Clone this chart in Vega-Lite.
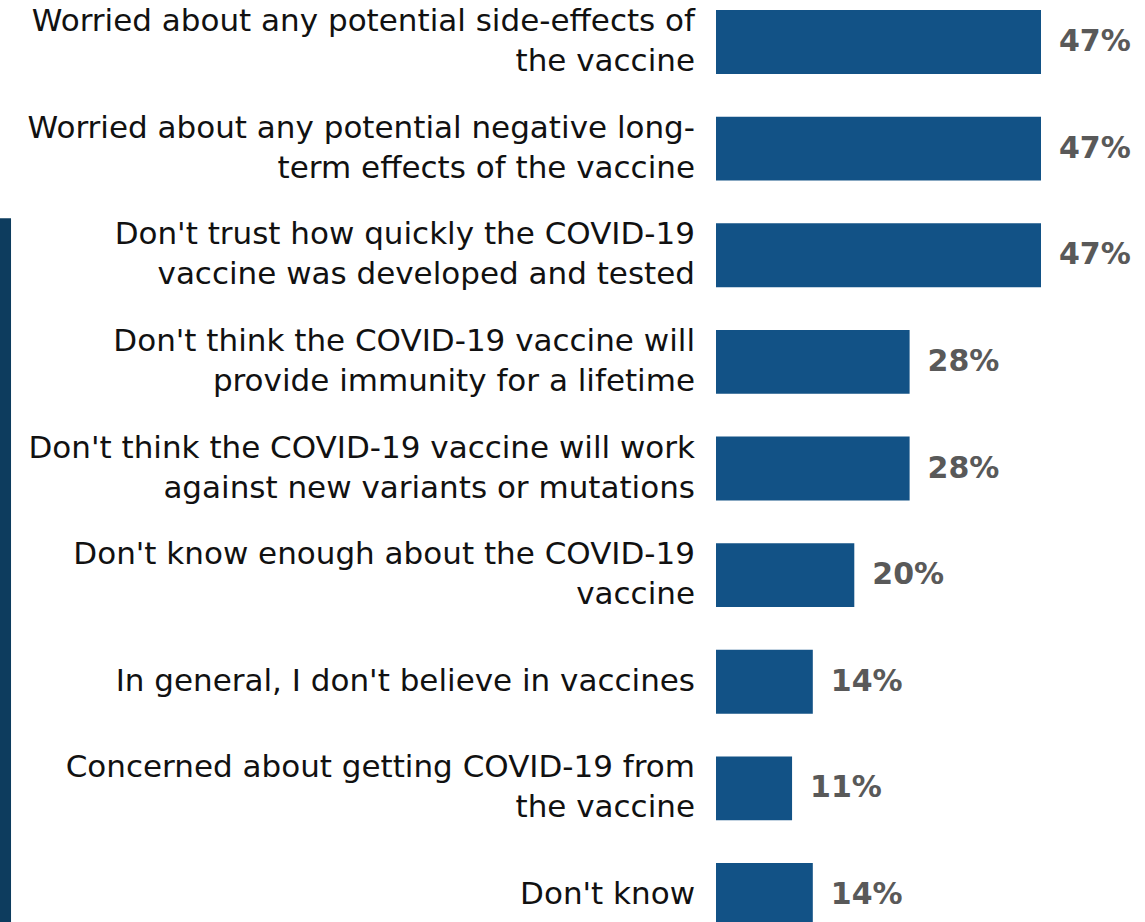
{
  "$schema": "https://vega.github.io/schema/vega-lite/v6.json",
  "width": 429,
  "height": 922,
  "autosize": {"type": "none"},
  "padding": {"left": 716, "top": 0, "right": 0, "bottom": 0},
  "background": "white",
  "config": {"view": {"stroke": null}, "font": "DejaVu Sans"},
  "data": {
    "values": [
      {"reason": "Worried about any potential side-effects of|the vaccine", "pct": 47},
      {"reason": "Worried about any potential negative long-|term effects of the vaccine", "pct": 47},
      {"reason": "Don't trust how quickly the COVID-19|vaccine was developed and tested", "pct": 47},
      {"reason": "Don't think the COVID-19 vaccine will|provide immunity for a lifetime", "pct": 28},
      {"reason": "Don't think the COVID-19 vaccine will work|against new variants or mutations", "pct": 28},
      {"reason": "Don't know enough about the COVID-19|vaccine", "pct": 20},
      {"reason": "In general, I don't believe in vaccines", "pct": 14},
      {"reason": "Concerned about getting COVID-19 from|the vaccine", "pct": 11},
      {"reason": "Don't know", "pct": 14}
    ]
  },
  "encoding": {
    "y": {
      "field": "reason",
      "type": "nominal",
      "sort": null,
      "scale": {"range": [0, 937], "paddingInner": 0.4, "paddingOuter": 0.094},
      "axis": null
    }
  },
  "layer": [
    {
      "mark": {"type": "bar", "color": "#125286"},
      "encoding": {
        "x": {
          "field": "pct",
          "type": "quantitative",
          "scale": {"domain": [0, 62.04], "nice": false},
          "axis": null
        }
      }
    },
    {
      "transform": [{"calculate": "datum.pct + '%'", "as": "lbl"}],
      "mark": {"type": "text", "align": "left", "baseline": "middle", "dx": 18, "font": "DejaVu Sans", "fontSize": 30, "fontWeight": "bold", "color": "#595959"},
      "encoding": {
        "x": {"field": "pct", "type": "quantitative"},
        "text": {"field": "lbl", "type": "nominal"}
      }
    },
    {
      "transform": [{"filter": "indexof(datum.reason, '|') >= 0"}],
      "mark": {"type": "text", "align": "right", "baseline": "middle", "dx": -21, "dy": -20, "lineBreak": "|", "lineHeight": 40, "font": "DejaVu Sans", "fontSize": 31, "color": "#111111", "clip": false},
      "encoding": {
        "x": {"datum": 0},
        "text": {"field": "reason", "type": "nominal"}
      }
    },
    {
      "transform": [{"filter": "indexof(datum.reason, '|') < 0"}],
      "mark": {"type": "text", "align": "right", "baseline": "middle", "dx": -21, "font": "DejaVu Sans", "fontSize": 31, "color": "#111111", "clip": false},
      "encoding": {
        "x": {"datum": 0},
        "text": {"field": "reason", "type": "nominal"}
      }
    },
    {
      "data": {"values": [{"deco": 1}]},
      "mark": {"type": "rect", "color": "#0d3c5e", "clip": false},
      "encoding": {
        "x": {"datum": -103.55},
        "x2": {"datum": -101.95},
        "y": {"datum": "Don't trust how quickly the COVID-19|vaccine was developed and tested", "bandPosition": -0.08},
        "y2": {"datum": "Don't know", "bandPosition": 1.5}
      }
    }
  ]
}
